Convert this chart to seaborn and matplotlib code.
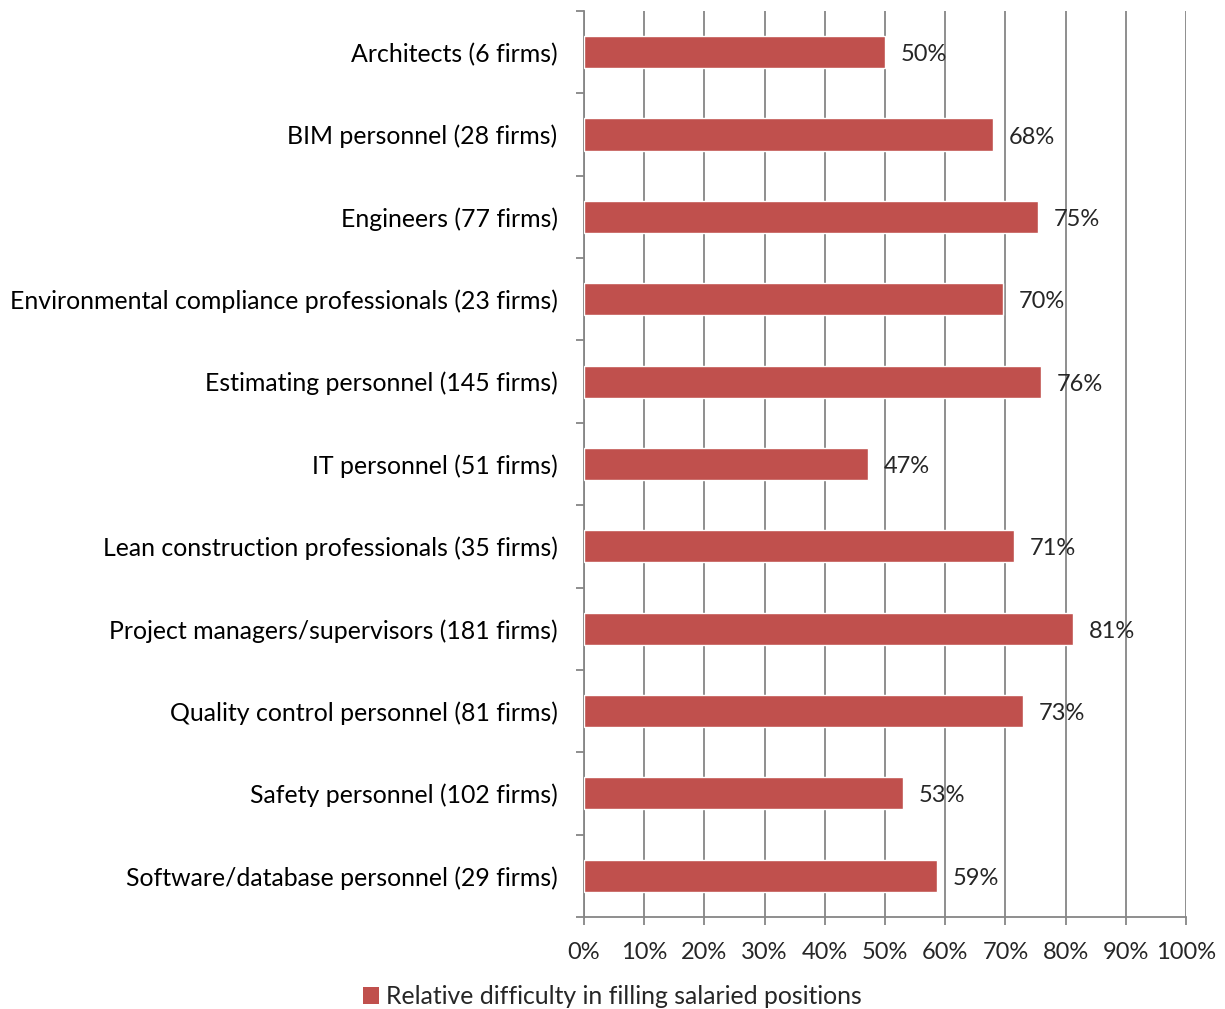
import matplotlib
matplotlib.use("Agg")
import matplotlib.pyplot as plt
from matplotlib.ticker import FixedLocator, PercentFormatter
from matplotlib.patches import Patch
import seaborn as sns
import pandas as pd

# data
categories = [
    "Architects (6 firms)",
    "BIM personnel (28 firms)",
    "Engineers (77 firms)",
    "Environmental compliance professionals (23 firms)",
    "Estimating personnel (145 firms)",
    "IT personnel (51 firms)",
    "Lean construction professionals (35 firms)",
    "Project managers/supervisors (181 firms)",
    "Quality control personnel (81 firms)",
    "Safety personnel (102 firms)",
    "Software/database personnel (29 firms)",
]
difficulty = [50.0, 67.9, 75.4, 69.6, 75.9, 47.2, 71.4, 81.2, 72.9, 53.0, 58.6]
series_name = "Relative difficulty in filling salaried positions"

df = pd.DataFrame({"category": categories, "value": difficulty})

sns.set_style("white")
plt.rcParams["font.family"] = ["Lato", "DejaVu Sans"]

bar_color = "#C0504D"
grid_color = "#868686"

fig = plt.figure(figsize=(12.25, 10.09), dpi=100)
ax = fig.add_axes([0.4767, 0.0912, 0.4915, 0.8979])

sns.barplot(data=df, x="value", y="category", orient="h", color=bar_color,
            width=0.39, saturation=1, ax=ax, zorder=3)

ax.set_xlim(0, 100)
ax.set_ylim(len(categories) - 0.5, -0.5)
ax.set_xticks(range(0, 101, 10))
ax.xaxis.set_major_formatter(PercentFormatter(decimals=0))
ax.grid(axis="x", color=grid_color, linewidth=1.3, zorder=0)
ax.set_axisbelow(True)

# y ticks sit at the category boundaries
ax.yaxis.set_minor_locator(FixedLocator([i - 0.5 for i in range(len(categories) + 1)]))
ax.tick_params(axis="y", which="major", length=0, pad=19, labelsize=17.9, colors="black")
ax.tick_params(axis="y", which="minor", length=6, width=1.3, color=grid_color, left=True)
ax.tick_params(axis="x", which="major", length=6, width=1.3, color=grid_color, bottom=True,
               labelsize=17, pad=12)

for side in ["top", "right"]:
    ax.spines[side].set_visible(False)
for side in ["left", "bottom"]:
    ax.spines[side].set_color(grid_color)
    ax.spines[side].set_linewidth(1.3)

ax.set_xlabel("")
ax.set_ylabel("")

for i, v in enumerate(difficulty):
    ax.text(v + 2.6, i + 0.03, f"{v:.0f}%", va="center", ha="left", fontsize=17, zorder=4)

handle = Patch(facecolor=bar_color, edgecolor="none")
fig.legend([handle], [series_name], loc="center", bbox_to_anchor=(0.5, 0.012),
           frameon=False, fontsize=17.8, handlelength=0.65, handleheight=0.65,
           handletextpad=0.3)

fig.savefig("out.png", dpi=100)
